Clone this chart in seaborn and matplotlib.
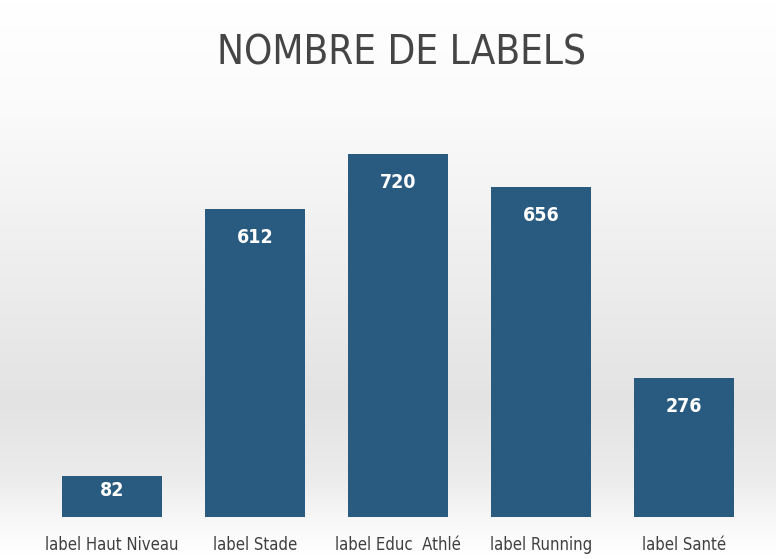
import numpy as np
import pandas as pd
import matplotlib
matplotlib.use("Agg")
import matplotlib.pyplot as plt
import seaborn as sns
from matplotlib.colors import LinearSegmentedColormap

categories = ["label Haut Niveau", "label Stade", "label Educ  Athlé", "label Running", "label Santé"]
values = [82, 612, 720, 656, 276]
title = "NOMBRE DE LABELS"

df = pd.DataFrame({"cat": categories, "val": values})

sns.set_theme(style="white")
FONT = ["DejaVu Sans"]
plt.rcParams["font.family"] = FONT
plt.rcParams["font.stretch"] = "condensed"

fig = plt.figure(figsize=(7.76, 5.59), dpi=100)

# background gradient
bg = fig.add_axes([0, 0, 1, 1], zorder=0)
bg.set_axis_off()
cmap = LinearSegmentedColormap.from_list(
    "bg", [(0.0, "#ffffff"), (0.18, "#fbfbfb"), (0.45, "#efefef"), (0.72, "#e3e3e3"),
           (0.86, "#ececec"), (0.95, "#fafafa"), (1.0, "#ffffff")])
grad = np.linspace(0, 1, 300).reshape(-1, 1)
bg.imshow(grad, aspect="auto", cmap=cmap, extent=[0, 1, 0, 1], origin="upper")
bg.set_xlim(0, 1)
bg.set_ylim(0, 1)

# main axes: baseline at y=517px, bars 62..735 px
W, H = 776, 559
left_px, right_px = 40.5, 755.5
bottom_px = 517
top_px = 114
ax = fig.add_axes([left_px / W, (H - bottom_px) / H, (right_px - left_px) / W, (bottom_px - top_px) / H], zorder=1)
ax.patch.set_alpha(0)

sns.barplot(data=df, x="cat", y="val", color="#295b80", saturation=1, width=0.705,
            linewidth=0, ax=ax)
ax.set_xlim(-0.5, len(categories) - 0.5)
ax.set_ylim(0, 800)
for s in ax.spines.values():
    s.set_visible(False)
ax.set_yticks([])
ax.set_xlabel("")
ax.set_ylabel("")
ax.tick_params(axis="x", length=0, pad=14)
for lab in ax.get_xticklabels():
    lab.set_fontsize(12)
    lab.set_color("#404040")
    lab.set_fontstretch("condensed")

px_per_unit = (bottom_px - top_px) / 800
for i, v in enumerate(values):
    bar_h = v * px_per_unit
    off = min(19, max(3, (bar_h - 17) / 2 - 7))
    ax.annotate(f"{v}", xy=(i, v), xytext=(0, -off * 72 / 100), textcoords="offset points",
                ha="center", va="top", color="white", fontsize=14, fontweight="bold",
                fontstretch="condensed")

fig.text(0.517, 0.905, title, ha="center", va="center", fontsize=29, color="#454545",
         fontstretch="condensed")

fig.savefig("out.png", dpi=100)
